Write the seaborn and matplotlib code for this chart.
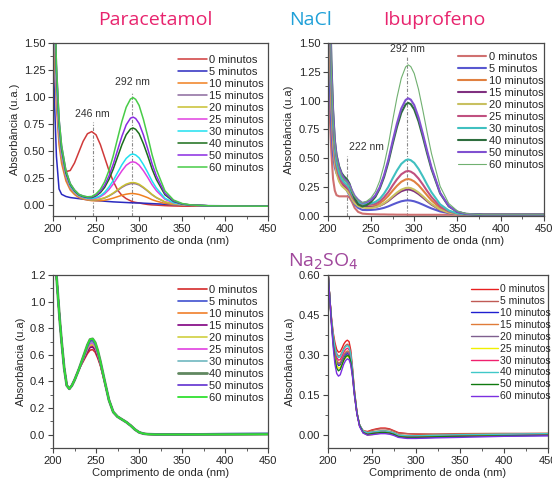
import numpy as np
import pandas as pd
import matplotlib
matplotlib.use('Agg')
import matplotlib.pyplot as plt
import seaborn as sns
from matplotlib.ticker import MultipleLocator

# ---------------------------------------------------------------
# Data (absorbance vs wavelength)
# ---------------------------------------------------------------
tempos = ['0 minutos', '5 minutos', '10 minutos', '15 minutos', '20 minutos',
          '25 minutos', '30 minutos', '40 minutos', '50 minutos', '60 minutos']

# Paracetamol / NaCl
wl_pn = [200, 202, 204, 207, 210, 215, 220, 225, 230, 235, 240, 245, 250, 255, 260, 265, 270, 275,
         280, 285, 290, 293, 296, 300, 305, 310, 315, 320, 330, 340, 350, 360, 380, 400, 450]
pn_0 = [3.0, 1.7, 1.1, 0.7, 0.48, 0.31, 0.32, 0.39, 0.49, 0.59, 0.66, 0.68, 0.65, 0.56, 0.44, 0.32, 0.22, 0.14,
        0.09, 0.06, 0.04, 0.03, 0.025, 0.02, 0.012, 0.006, 0.002, 0.0, -0.005, -0.008, -0.01, -0.01, -0.01, -0.01, -0.01]
pn_5 = [1.5, 0.9, 0.45, 0.15, 0.10, 0.08, 0.07, 0.065, 0.06, 0.055, 0.05, 0.046, 0.042, 0.039, 0.036, 0.033, 0.03, 0.028,
        0.026, 0.024, 0.022, 0.021, 0.02, 0.02, 0.018, 0.016, 0.014, 0.012, 0.008, 0.004, 0.0, -0.002, -0.005, -0.006, -0.008]
pn_10 = [2.1, 1.33, 0.91, 0.56, 0.385, 0.224, 0.14, 0.098, 0.07, 0.056, 0.047, 0.041, 0.04, 0.041, 0.045, 0.054, 0.065, 0.078,
         0.091, 0.101, 0.107, 0.107, 0.104, 0.098, 0.084, 0.069, 0.05, 0.037, 0.016, 0.006, 0.001, -0.002, -0.006, -0.008, -0.01]
pn_15 = [2.3, 1.45, 1.0, 0.62, 0.43, 0.25, 0.155, 0.11, 0.078, 0.064, 0.053, 0.048, 0.049, 0.055, 0.066, 0.084, 0.108, 0.135,
         0.164, 0.186, 0.198, 0.2, 0.197, 0.186, 0.16, 0.129, 0.096, 0.069, 0.029, 0.01, 0.003, -0.002, -0.006, -0.008, -0.01]
pn_20 = [2.4, 1.5, 1.04, 0.64, 0.44, 0.26, 0.16, 0.112, 0.08, 0.065, 0.054, 0.049, 0.05, 0.057, 0.068, 0.087, 0.112, 0.141,
         0.171, 0.194, 0.207, 0.209, 0.205, 0.193, 0.166, 0.134, 0.099, 0.071, 0.03, 0.011, 0.003, -0.002, -0.006, -0.008, -0.01]
pn_25 = [2.55, 1.6, 1.1, 0.68, 0.47, 0.27, 0.17, 0.12, 0.085, 0.07, 0.06, 0.057, 0.064, 0.078, 0.104, 0.144, 0.196, 0.257,
         0.317, 0.368, 0.396, 0.4, 0.394, 0.37, 0.318, 0.256, 0.189, 0.134, 0.054, 0.02, 0.006, 0.0, -0.006, -0.008, -0.01]
pn_30 = [2.7, 1.7, 1.17, 0.72, 0.5, 0.29, 0.18, 0.126, 0.09, 0.074, 0.064, 0.062, 0.07, 0.087, 0.119, 0.167, 0.228, 0.301,
         0.373, 0.432, 0.467, 0.472, 0.464, 0.437, 0.375, 0.302, 0.223, 0.158, 0.064, 0.023, 0.007, 0.0, -0.006, -0.008, -0.01]
pn_40 = [2.85, 1.8, 1.24, 0.76, 0.52, 0.3, 0.19, 0.133, 0.095, 0.079, 0.07, 0.07, 0.086, 0.115, 0.164, 0.238, 0.334, 0.446,
         0.558, 0.651, 0.704, 0.713, 0.701, 0.661, 0.568, 0.456, 0.335, 0.238, 0.096, 0.034, 0.01, 0.001, -0.006, -0.008, -0.01]
pn_50 = [3.0, 1.9, 1.3, 0.8, 0.55, 0.32, 0.2, 0.14, 0.1, 0.084, 0.074, 0.076, 0.093, 0.127, 0.184, 0.269, 0.379, 0.508,
         0.636, 0.742, 0.804, 0.814, 0.801, 0.755, 0.649, 0.521, 0.383, 0.271, 0.109, 0.039, 0.012, 0.001, -0.006, -0.008, -0.01]
pn_60 = [3.0, 1.9, 1.3, 0.8, 0.55, 0.32, 0.2, 0.14, 0.1, 0.085, 0.077, 0.08, 0.103, 0.146, 0.217, 0.321, 0.457, 0.616,
         0.774, 0.905, 0.981, 0.994, 0.978, 0.922, 0.793, 0.636, 0.468, 0.33, 0.132, 0.047, 0.015, 0.002, -0.006, -0.008, -0.01]

# Ibuprofeno / NaCl
wl_in = [200, 202, 204, 206, 208, 210, 213, 216, 219, 222, 225, 228, 231, 235, 240, 245, 250, 255, 260, 265,
         270, 275, 280, 285, 290, 293, 296, 300, 305, 310, 315, 320, 330, 340, 350, 360, 380, 400, 450]
in_0 = [1.3, 0.9, 0.55, 0.32, 0.22, 0.18, 0.17, 0.17, 0.17, 0.17, 0.16, 0.12, 0.07, 0.035, 0.02, 0.017, 0.015, 0.014, 0.013, 0.013,
        0.012, 0.012, 0.011, 0.011, 0.011, 0.01, 0.01, 0.01, 0.01, 0.01, 0.01, 0.01, 0.01, 0.01, 0.01, 0.01, 0.01, 0.01, 0.01]
in_5 = [2.0, 1.2, 0.75, 0.52, 0.42, 0.37, 0.33, 0.3, 0.26, 0.22, 0.18, 0.14, 0.1, 0.07, 0.052, 0.051, 0.052, 0.055, 0.061, 0.07,
        0.083, 0.099, 0.114, 0.127, 0.134, 0.135, 0.133, 0.127, 0.114, 0.098, 0.081, 0.065, 0.039, 0.025, 0.016, 0.013, 0.01, 0.01, 0.01]
in_10 = [2.5, 1.6, 1.0, 0.66, 0.48, 0.39, 0.31, 0.27, 0.25, 0.23, 0.2, 0.15, 0.115, 0.09, 0.079, 0.077, 0.079, 0.09, 0.109, 0.137,
         0.174, 0.219, 0.261, 0.296, 0.316, 0.32, 0.315, 0.299, 0.266, 0.223, 0.178, 0.135, 0.069, 0.034, 0.018, 0.012, 0.01, 0.01, 0.01]
in_15 = [2.6, 1.7, 1.05, 0.7, 0.5, 0.4, 0.32, 0.28, 0.255, 0.24, 0.21, 0.16, 0.12, 0.095, 0.083, 0.076, 0.074, 0.078, 0.088, 0.106,
         0.13, 0.161, 0.19, 0.214, 0.227, 0.23, 0.226, 0.214, 0.19, 0.16, 0.128, 0.098, 0.052, 0.027, 0.016, 0.012, 0.01, 0.01, 0.01]
in_20 = [2.4, 1.55, 0.98, 0.64, 0.46, 0.37, 0.3, 0.26, 0.24, 0.22, 0.19, 0.145, 0.11, 0.085, 0.073, 0.068, 0.069, 0.076, 0.089, 0.11,
         0.137, 0.17, 0.202, 0.228, 0.242, 0.245, 0.241, 0.228, 0.203, 0.171, 0.136, 0.104, 0.055, 0.028, 0.016, 0.012, 0.01, 0.01, 0.01]
in_25 = [2.6, 1.7, 1.1, 0.72, 0.52, 0.42, 0.34, 0.29, 0.27, 0.25, 0.22, 0.17, 0.135, 0.11, 0.1, 0.096, 0.097, 0.105, 0.126, 0.161,
         0.206, 0.264, 0.317, 0.361, 0.385, 0.39, 0.384, 0.365, 0.324, 0.272, 0.216, 0.164, 0.082, 0.039, 0.02, 0.013, 0.01, 0.01, 0.01]
in_30 = [2.8, 1.9, 1.2, 0.8, 0.58, 0.46, 0.37, 0.32, 0.29, 0.27, 0.24, 0.19, 0.15, 0.12, 0.106, 0.104, 0.108, 0.121, 0.147, 0.193,
         0.252, 0.326, 0.394, 0.451, 0.483, 0.49, 0.483, 0.46, 0.408, 0.342, 0.271, 0.205, 0.101, 0.047, 0.022, 0.014, 0.01, 0.01, 0.01]
in_40 = [3.0, 2.1, 1.35, 0.92, 0.66, 0.53, 0.43, 0.37, 0.34, 0.32, 0.28, 0.21, 0.15, 0.1, 0.082, 0.094, 0.122, 0.165, 0.236, 0.335,
         0.465, 0.623, 0.771, 0.894, 0.966, 0.98, 0.969, 0.923, 0.82, 0.685, 0.541, 0.406, 0.195, 0.083, 0.035, 0.018, 0.01, 0.01, 0.01]
in_50 = [3.0, 2.1, 1.3, 0.9, 0.65, 0.52, 0.42, 0.36, 0.32, 0.3, 0.27, 0.22, 0.175, 0.14, 0.113, 0.12, 0.139, 0.179, 0.248, 0.352,
         0.486, 0.649, 0.802, 0.931, 1.005, 1.02, 1.008, 0.961, 0.854, 0.713, 0.563, 0.422, 0.202, 0.086, 0.036, 0.018, 0.01, 0.01, 0.01]
in_60 = [3.0, 2.0, 1.25, 0.85, 0.62, 0.5, 0.4, 0.34, 0.31, 0.29, 0.26, 0.21, 0.17, 0.135, 0.115, 0.128, 0.157, 0.211, 0.303, 0.439,
         0.613, 0.826, 1.026, 1.193, 1.291, 1.31, 1.295, 1.235, 1.097, 0.916, 0.722, 0.541, 0.257, 0.108, 0.043, 0.02, 0.01, 0.01, 0.01]

# Paracetamol / Na2SO4
wl_pd = [200, 202, 204, 206, 208, 210, 213, 216, 219, 222, 225, 230, 235, 240, 243, 246, 249,
         252, 255, 260, 265, 270, 275, 280, 285, 290, 295, 300, 305, 310, 320, 350, 400, 450]
pd_0 = [1.55, 1.38, 1.2, 1.02, 0.85, 0.7, 0.5, 0.37, 0.345, 0.37, 0.41, 0.49, 0.55, 0.61, 0.635, 0.64, 0.62,
        0.575, 0.52, 0.395, 0.26, 0.17, 0.135, 0.115, 0.095, 0.07, 0.04, 0.018, 0.008, 0.004, 0.002, 0.002, 0.003, 0.004]
pd_5 = [1.55, 1.38, 1.2, 1.02, 0.85, 0.7, 0.5, 0.37, 0.345, 0.37, 0.41, 0.49, 0.574, 0.658, 0.695, 0.70, 0.674,
        0.617, 0.544, 0.401, 0.26, 0.17, 0.135, 0.115, 0.095, 0.07, 0.04, 0.018, 0.008, 0.005, 0.004, 0.005, 0.008, 0.01]
pd_10 = [1.55, 1.38, 1.2, 1.02, 0.85, 0.7, 0.5, 0.37, 0.345, 0.37, 0.41, 0.49, 0.562, 0.634, 0.665, 0.67, 0.647,
         0.596, 0.532, 0.398, 0.26, 0.17, 0.135, 0.115, 0.095, 0.07, 0.04, 0.018, 0.008, 0.004, 0.002, 0.002, 0.003, 0.004]
pd_15 = [1.55, 1.38, 1.2, 1.02, 0.85, 0.7, 0.5, 0.37, 0.345, 0.37, 0.41, 0.49, 0.558, 0.626, 0.655, 0.66, 0.638,
         0.589, 0.528, 0.397, 0.26, 0.17, 0.135, 0.115, 0.095, 0.07, 0.04, 0.018, 0.008, 0.004, 0.002, 0.002, 0.003, 0.004]
pd_20 = [1.55, 1.38, 1.2, 1.02, 0.85, 0.7, 0.5, 0.37, 0.345, 0.37, 0.41, 0.49, 0.566, 0.642, 0.675, 0.68, 0.656,
         0.603, 0.536, 0.399, 0.26, 0.17, 0.135, 0.115, 0.095, 0.07, 0.04, 0.018, 0.008, 0.004, 0.002, 0.002, 0.003, 0.004]
pd_25 = [1.55, 1.38, 1.2, 1.02, 0.85, 0.7, 0.5, 0.37, 0.345, 0.37, 0.41, 0.49, 0.57, 0.65, 0.685, 0.69, 0.665,
         0.61, 0.54, 0.40, 0.26, 0.17, 0.135, 0.115, 0.095, 0.07, 0.04, 0.018, 0.008, 0.004, 0.002, 0.002, 0.003, 0.004]
pd_30 = [1.55, 1.38, 1.2, 1.02, 0.85, 0.7, 0.5, 0.37, 0.345, 0.37, 0.41, 0.49, 0.574, 0.658, 0.695, 0.70, 0.674,
         0.617, 0.544, 0.401, 0.26, 0.17, 0.135, 0.115, 0.095, 0.07, 0.04, 0.018, 0.008, 0.004, 0.002, 0.002, 0.003, 0.004]
pd_40 = [1.55, 1.38, 1.2, 1.02, 0.85, 0.7, 0.5, 0.37, 0.345, 0.37, 0.41, 0.49, 0.582, 0.674, 0.715, 0.72, 0.692,
         0.631, 0.552, 0.403, 0.26, 0.17, 0.135, 0.115, 0.095, 0.07, 0.04, 0.018, 0.008, 0.004, 0.002, 0.002, 0.003, 0.004]
pd_50 = [1.55, 1.38, 1.2, 1.02, 0.85, 0.7, 0.5, 0.37, 0.345, 0.37, 0.41, 0.49, 0.578, 0.666, 0.705, 0.71, 0.683,
         0.624, 0.548, 0.402, 0.26, 0.17, 0.135, 0.115, 0.095, 0.07, 0.04, 0.018, 0.008, 0.004, 0.002, 0.002, 0.003, 0.004]
pd_60 = [1.55, 1.38, 1.2, 1.02, 0.85, 0.7, 0.5, 0.37, 0.345, 0.37, 0.41, 0.49, 0.582, 0.674, 0.715, 0.72, 0.692,
         0.631, 0.552, 0.403, 0.26, 0.17, 0.135, 0.115, 0.095, 0.07, 0.04, 0.018, 0.008, 0.004, 0.002, 0.002, 0.003, 0.004]

# Ibuprofeno / Na2SO4
wl_id = [200, 202, 204, 206, 208, 210, 212, 214, 216, 218, 220, 222, 224, 226, 228, 230, 233,
         236, 240, 245, 250, 255, 260, 265, 270, 275, 280, 290, 300, 320, 350, 400, 450]
id_0 = [0.62, 0.52, 0.442, 0.384, 0.346, 0.32, 0.31, 0.312, 0.325, 0.34, 0.35, 0.355, 0.35, 0.317, 0.25, 0.172, 0.084,
        0.035, 0.015, 0.012, 0.018, 0.022, 0.025, 0.025, 0.022, 0.015, 0.008, 0.004, 0.002, 0.0, -0.002, -0.002, -0.002]
id_5 = [0.62, 0.52, 0.438, 0.375, 0.333, 0.305, 0.295, 0.297, 0.31, 0.325, 0.335, 0.34, 0.335, 0.305, 0.243, 0.168, 0.083,
        0.035, 0.014, 0.01, 0.016, 0.02, 0.022, 0.022, 0.02, 0.013, 0.006, 0.004, 0.003, 0.003, 0.004, 0.005, 0.005]
id_10 = [0.62, 0.52, 0.427, 0.354, 0.301, 0.27, 0.26, 0.262, 0.275, 0.29, 0.3, 0.305, 0.3, 0.277, 0.225, 0.157, 0.079,
         0.035, 0.008, 0.0, 0.002, 0.004, 0.006, 0.006, 0.004, 0.0, -0.008, -0.012, -0.012, -0.01, -0.006, -0.004, -0.003]
id_15 = [0.62, 0.52, 0.43, 0.36, 0.31, 0.28, 0.27, 0.272, 0.285, 0.3, 0.31, 0.315, 0.31, 0.285, 0.23, 0.16, 0.08,
         0.035, 0.015, 0.008, 0.011, 0.013, 0.015, 0.015, 0.013, 0.008, 0.0, -0.003, -0.003, -0.001, 0.001, 0.003, 0.005]
id_20 = [0.62, 0.52, 0.429, 0.357, 0.306, 0.275, 0.265, 0.267, 0.28, 0.295, 0.305, 0.31, 0.305, 0.281, 0.228, 0.159, 0.08,
         0.035, 0.012, 0.005, 0.008, 0.01, 0.012, 0.012, 0.01, 0.005, -0.003, -0.006, -0.006, -0.004, -0.002, 0.0, 0.002]
id_25 = [0.62, 0.52, 0.424, 0.348, 0.292, 0.26, 0.25, 0.252, 0.265, 0.28, 0.29, 0.295, 0.29, 0.269, 0.22, 0.154, 0.078,
         0.033, 0.008, -0.002, 0.0, 0.004, 0.006, 0.006, 0.005, 0.0, -0.006, -0.008, -0.008, -0.006, -0.003, -0.001, 0.0]
id_30 = [0.62, 0.52, 0.433, 0.366, 0.319, 0.29, 0.28, 0.282, 0.295, 0.31, 0.32, 0.325, 0.32, 0.293, 0.235, 0.163, 0.081,
         0.035, 0.012, 0.005, 0.008, 0.01, 0.012, 0.012, 0.01, 0.005, -0.003, -0.006, -0.006, -0.004, -0.002, 0.0, 0.002]
id_40 = [0.62, 0.52, 0.436, 0.372, 0.328, 0.3, 0.29, 0.292, 0.305, 0.32, 0.33, 0.335, 0.33, 0.301, 0.24, 0.166, 0.082,
         0.036, 0.014, 0.007, 0.01, 0.012, 0.014, 0.014, 0.012, 0.007, -0.001, -0.004, -0.004, -0.002, 0.0, 0.002, 0.004]
id_50 = [0.62, 0.52, 0.421, 0.342, 0.283, 0.25, 0.24, 0.245, 0.262, 0.28, 0.292, 0.298, 0.295, 0.273, 0.223, 0.156, 0.079,
         0.034, 0.008, 0.001, 0.004, 0.006, 0.008, 0.008, 0.006, 0.001, -0.007, -0.01, -0.01, -0.008, -0.006, -0.004, -0.002]
id_60 = [0.62, 0.52, 0.415, 0.33, 0.265, 0.23, 0.22, 0.225, 0.245, 0.265, 0.278, 0.285, 0.282, 0.262, 0.215, 0.151, 0.077,
         0.03, 0.006, -0.002, 0.0, 0.002, 0.004, 0.004, 0.002, -0.003, -0.01, -0.014, -0.014, -0.012, -0.01, -0.006, -0.004]

# line colours of each panel (same order as tempos)
cores_pn = ['#d03a3a', '#2a2ac0', '#f08020', '#8c6a9e', '#c8c030', '#e040e0', '#20e0f0', '#1a6e1a', '#8a2be2', '#48cc48']
cores_in = ['#d07070', '#5858d0', '#e08040', '#803080', '#c8c060', '#c05080', '#40c0c0', '#2e6e3e', '#8050d0', '#70b070']
cores_pd = ['#d42a2a', '#4050d0', '#f07f2a', '#800080', '#d0d040', '#e040e0', '#70b8c0', '#608860', '#6030d0', '#30e030']
cores_id = ['#e82020', '#c05a55', '#1f1fd0', '#e07b39', '#7f5f8f', '#f0f000', '#f0206e', '#40c8c8', '#0f7a0f', '#7b2fe0']


def draw_panel(ax, wl, curves, colors, widths, ylim, ymajor, yminor, fmt, ylabel, leg_anchor, leg_size=8):
    """Draw one set of spectra with seaborn and style the axes like Origin"""
    for vals, cor, lw, lab in zip(curves, colors, widths, tempos):
        df = pd.DataFrame({'wl': wl, 'abs': vals})
        sns.lineplot(data=df, x='wl', y='abs', ax=ax, color=cor, lw=lw, label=lab,
                     sort=False, estimator=None)
    ax.set_xlim(200, 450)
    ax.set_ylim(*ylim)
    ax.xaxis.set_major_locator(MultipleLocator(50))
    ax.xaxis.set_minor_locator(MultipleLocator(25))
    ax.yaxis.set_major_locator(MultipleLocator(ymajor))
    ax.yaxis.set_minor_locator(MultipleLocator(yminor))
    ax.yaxis.set_major_formatter(plt.FormatStrFormatter(fmt))
    ax.tick_params(which='major', length=3.5, width=0.8, labelsize=8, color='#444444', pad=2)
    ax.tick_params(which='minor', length=2, width=0.6, color='#444444')
    for sp in ax.spines.values():
        sp.set_visible(True)
        sp.set_color('#4a4a4a')
        sp.set_linewidth(0.9)
    ax.set_xlabel('Comprimento de onda (nm)', fontsize=8, labelpad=2)
    ax.set_ylabel(ylabel, fontsize=8, labelpad=3)
    ax.legend(loc='upper left', bbox_to_anchor=leg_anchor, frameon=False, fontsize=leg_size,
              handlelength=2.6, handletextpad=0.2, labelspacing=0.18, borderaxespad=0)


sns.set_theme(style='ticks')
plt.rcParams['font.family'] = ['Liberation Sans', 'DejaVu Sans']

fig = plt.figure(figsize=(5.52, 4.82), dpi=100)
ax1 = fig.add_axes([0.096, 0.552, 0.39, 0.359])
ax2 = fig.add_axes([0.594, 0.552, 0.391, 0.359])
ax3 = fig.add_axes([0.096, 0.0705, 0.39, 0.359])
ax4 = fig.add_axes([0.594, 0.0705, 0.399, 0.359])

draw_panel(ax1, wl_pn, [pn_0, pn_5, pn_10, pn_15, pn_20, pn_25, pn_30, pn_40, pn_50, pn_60],
           cores_pn, [1.1] * 10, (-0.1, 1.5), 0.25, 0.125, '%.2f', 'Absorbância (u.a.)', (0.56, 0.955))
draw_panel(ax2, wl_in, [in_0, in_5, in_10, in_15, in_20, in_25, in_30, in_40, in_50, in_60],
           cores_in, [1.5] * 9 + [0.8], (0, 1.5), 0.25, 0.125, '%.2f', 'Absorbância (u.a)', (0.58, 0.975))
draw_panel(ax3, wl_pd, [pd_0, pd_5, pd_10, pd_15, pd_20, pd_25, pd_30, pd_40, pd_50, pd_60],
           cores_pd, [1.2] * 7 + [2.0, 1.2, 1.3], (-0.1, 1.2), 0.2, 0.1, '%.1f', 'Absorbância (u.a)', (0.56, 0.97))
draw_panel(ax4, wl_id, [id_0, id_5, id_10, id_15, id_20, id_25, id_30, id_40, id_50, id_60],
           cores_id, [1.0] * 10, (-0.05, 0.6), 0.15, 0.075, '%.2f', 'Absorbância (u.a)', (0.63, 0.97), leg_size=7.5)

# peak markers
guia = dict(color='#888888', lw=0.8, ls=(0, (3, 1.5, 1, 1.5)), zorder=1)
ax1.plot([246, 246], [-0.1, 0.77], **guia)
ax1.plot([292, 292], [-0.1, 1.05], **guia)
ax1.text(246, 0.8, '246 nm', ha='center', va='bottom', fontsize=7.5, color='#333333')
ax1.text(292, 1.09, '292 nm', ha='center', va='bottom', fontsize=7.5, color='#333333')
ax2.plot([292, 292], [0, 1.38], **guia)
ax2.plot([222, 222], [0, 0.52], **guia)
ax2.text(292, 1.4, '292 nm', ha='center', va='bottom', fontsize=7.5, color='#333333')
ax2.text(224, 0.55, '222 nm', ha='left', va='bottom', fontsize=7.5, color='#333333')

# panel titles
titulo = dict(ha='center', va='center', fontsize=14, family=['Open Sans', 'DejaVu Sans'])
fig.text(0.281, 0.958, 'Paracetamol', color='#e8246e', **titulo)
fig.text(0.563, 0.958, 'NaCl', color='#1fa0d8', **titulo)
fig.text(0.786, 0.958, 'Ibuprofeno', color='#e8246e', **titulo)
fig.text(0.585, 0.456, r'Na$_2$SO$_4$', color='#a0489c', **titulo)

plt.savefig('out.png', dpi=100)
